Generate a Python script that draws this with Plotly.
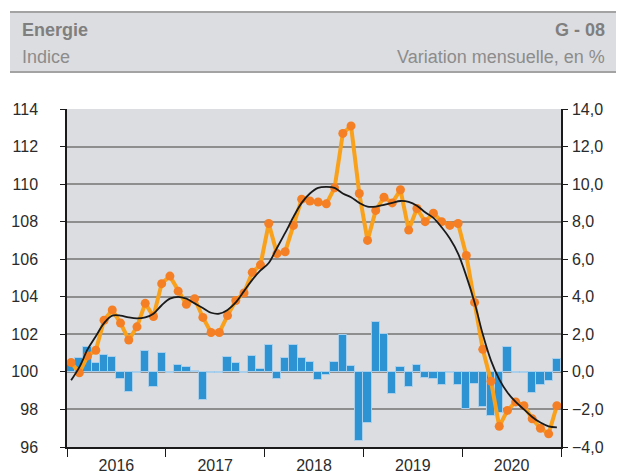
import plotly.graph_objects as go

years = ["2016", "2017", "2018", "2019", "2020"]
months = [f"{y}-{m:02d}" for y in years for m in range(1, 13)]

index_values = [
    100.5, 99.95, 100.85, 101.15, 102.75, 103.3, 102.6, 101.7, 102.4, 103.65, 102.95, 104.7,
    105.1, 104.3, 103.6, 103.9, 102.9, 102.1, 102.1, 103.0, 103.8, 104.2, 105.3, 105.7,
    107.9, 106.3, 106.4, 107.8, 109.2, 109.1, 109.05, 108.95, 109.8, 112.7, 113.1, 109.5,
    107.0, 108.6, 109.3, 109.0, 109.7, 107.55, 108.7, 108.0, 108.45, 108.0, 107.8, 107.9,
    106.2, 103.7, 101.2, 99.5, 97.1, 97.95, 98.4, 98.2, 97.5, 97.0, 96.7, 98.2,
]

trend_values = [
    99.55, 100.25, 101.2, 101.9, 102.6, 103.0, 103.0, 102.9, 102.85, 102.9, 103.1, 103.55,
    103.9, 104.0, 103.9, 103.65, 103.4, 103.15, 103.1, 103.3, 103.7, 104.3, 104.9, 105.4,
    105.8, 106.6, 107.4, 108.25, 109.0, 109.5, 109.8, 109.85, 109.8, 109.5, 109.3, 109.0,
    108.8, 108.8, 108.9, 109.0, 109.1, 109.05, 108.85, 108.5, 108.2, 107.7, 107.1, 106.3,
    105.1, 103.7, 102.0, 100.6, 99.6, 98.9, 98.4, 98.0, 97.6, 97.3, 97.1, 97.05,
]

monthly_change = [
    0.45, 0.75, 1.33, 0.5, 0.9, 0.8, -0.38, -1.05, -0.05, 1.13, -0.8, 1.0,
    -0.05, 0.37, 0.27, 0.03, -1.5, -0.05, -0.08, 0.8, 0.45, -0.08, 0.85, 0.17,
    1.43, -0.4, 0.74, 1.43, 0.74, 0.55, -0.45, -0.15, 0.55, 1.98, 0.3, -3.66,
    -2.7, 2.66, 2.01, -1.2, 0.27, -0.8, 0.39, -0.33, -0.37, -0.68, -0.05, -0.68,
    -2.0, -0.63, -1.88, -2.36, -2.2, 1.34, -0.05, -0.05, -1.15, -0.72, -0.48, 0.69,
]

left_ticks = [96, 98, 100, 102, 104, 106, 108, 110, 112, 114]
right_ticks = [-4, -2, 0, 2, 4, 6, 8, 10, 12, 14]

x = [i + 0.5 for i in range(len(months))]
year_centers = [6 + 12 * k for k in range(len(years))]

FONT = "Liberation Sans, Arial, sans-serif"
TXT = "#2b2b2b"

fig = go.Figure()

fig.add_trace(go.Bar(
    x=x, y=monthly_change, yaxis="y", width=1,
    marker=dict(color="#2E93D3", line=dict(color="#A9CFEC", width=1)),
    showlegend=False, hoverinfo="skip",
))

fig.add_trace(go.Scatter(
    x=x, y=index_values, yaxis="y2", mode="lines+markers",
    line=dict(color="#F9A11B", width=4),
    marker=dict(color="#F47F24", size=9),
    showlegend=False,
))

fig.add_trace(go.Scatter(
    x=x, y=trend_values, yaxis="y2", mode="lines",
    line=dict(color="#1a1a1a", width=1.8, shape="spline", smoothing=1.0),
    showlegend=False,
))

fig.update_layout(
    width=628, height=473,
    margin=dict(l=67, r=67, t=109, b=26, autoexpand=False),
    paper_bgcolor="white",
    plot_bgcolor="#DCDDE0",
    separators=", ",
    bargap=0,
    font=dict(family=FONT, size=16, color=TXT),
    xaxis=dict(
        range=[0, 60], automargin=False,
        tickmode="array", tickvals=year_centers, ticktext=years,
        ticks="", showgrid=False, zeroline=False,
        showline=True, linecolor="#1a1a1a", linewidth=1.5,
        tickfont=dict(family=FONT, size=16, color=TXT),
        ticklabelstandoff=3,
        minor=dict(tickmode="linear", tick0=0, dtick=12, ticks="outside",
                   ticklen=8, tickcolor="#1a1a1a", tickwidth=1.2, showgrid=False),
    ),
    yaxis=dict(
        side="right", range=[-4, 14], automargin=False,
        tickmode="array", tickvals=right_ticks, tickformat=".1f",
        ticks="outside", ticklen=5, tickcolor="#1a1a1a",
        showgrid=True, gridcolor="#8E8E8E", gridwidth=1.5,
        zeroline=False, showline=True, linecolor="#1a1a1a", linewidth=1.5,
        tickfont=dict(family=FONT, size=16, color=TXT),
        ticklabelstandoff=1,
    ),
    yaxis2=dict(
        side="left", overlaying="y", range=[96, 114], automargin=False,
        tickmode="array", tickvals=left_ticks,
        ticks="outside", ticklen=5, tickcolor="#1a1a1a",
        showgrid=False, zeroline=False,
        showline=True, linecolor="#1a1a1a", linewidth=1.5,
        tickfont=dict(family=FONT, size=16, color=TXT),
        ticklabelstandoff=19,
    ),
)

# header band (pixel -> paper conversion)
pw, ph = 628 - 67 - 67, 473 - 109 - 26
def px(v):
    return (v - 67) / pw
def py(v):
    return (473 - 26 - v) / ph

fig.add_shape(type="rect", xref="paper", yref="paper",
              x0=px(10), x1=px(616), y0=py(72), y1=py(12),
              fillcolor="#DCDDE0", line=dict(width=0), layer="below")
for yy in (12, 72):
    fig.add_shape(type="line", xref="paper", yref="paper",
                  x0=px(10), x1=px(616), y0=py(yy), y1=py(yy),
                  line=dict(color="#A3A3A3", width=2))

hdr = [
    ("<b>Energie</b>", 20, 30, "left", "#7F7F7F"),
    ("<b>G - 08</b>", 607, 30, "right", "#7F7F7F"),
    ("Indice", 20, 57, "left", "#8C8C8C"),
    ("Variation mensuelle, en %", 607, 57, "right", "#8C8C8C"),
]
for text, xx, yy, anchor, col in hdr:
    fig.add_annotation(text=text, xref="paper", yref="paper",
                       x=px(xx), y=py(yy), xanchor=anchor, yanchor="middle",
                       showarrow=False, font=dict(family=FONT, size=18, color=col))

fig.write_html(
    "out.html",
    config={"displayModeBar": False},
    post_script="document.body.style.margin='0';document.body.style.overflow='hidden';",
)
